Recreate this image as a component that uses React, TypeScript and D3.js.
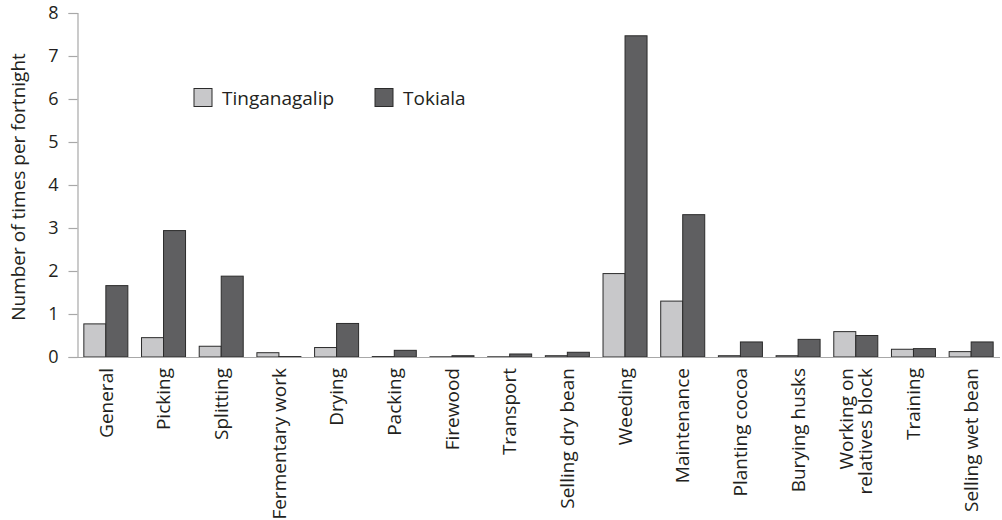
import React, { useEffect, useRef } from 'react';
import * as d3 from 'd3';

const categories = [
  'General', 'Picking', 'Splitting', 'Fermentary work', 'Drying', 'Packing',
  'Firewood', 'Transport', 'Selling dry bean', 'Weeding', 'Maintenance',
  'Planting cocoa', 'Burying husks', 'Working on\nrelatives block', 'Training',
  'Selling wet bean',
];
const tinganagalip = [0.77, 0.45, 0.25, 0.1, 0.22, 0.01, 0.005, 0.005, 0.03, 1.94, 1.3, 0.03, 0.03, 0.59, 0.18, 0.125];
const tokiala = [1.66, 2.94, 1.88, 0.01, 0.78, 0.155, 0.03, 0.07, 0.11, 7.47, 3.31, 0.35, 0.41, 0.5, 0.195, 0.35];
const seriesNames = ['Tinganagalip', 'Tokiala'];
const yTicks = [0, 1, 2, 3, 4, 5, 6, 7, 8];

const colors = ['#c8c8ca', '#5f5f61'];
const textColor = '#231f20';
const font = '"Open Sans", "DejaVu Sans", sans-serif';

function BarChart() {
  const svgRef = useRef<SVGSVGElement>(null);

  useEffect(() => {
    const svg = d3.select(svgRef.current);
    svg.selectAll('*').remove();

    const left = 77, right = 1000, top = 13, bottom = 357;

    const x = d3.scaleBand<string>()
      .domain(categories)
      .range([left, right])
      .paddingInner(0.237)
      .paddingOuter(0.1185);
    const x1 = d3.scaleBand<string>()
      .domain(seriesNames)
      .range([0, x.bandwidth()]);
    const y = d3.scaleLinear().domain([0, 8]).range([bottom, top]);

    // bars
    const groups = svg.append('g')
      .selectAll('g')
      .data(categories)
      .enter()
      .append('g')
      .attr('transform', d => `translate(${x(d)},0)`);

    groups.selectAll('rect')
      .data((d, i) => [tinganagalip[i], tokiala[i]].map((v, j) => ({ v, s: seriesNames[j], j })))
      .enter()
      .append('rect')
      .attr('x', d => x1(d.s)!)
      .attr('y', d => y(d.v))
      .attr('width', x1.bandwidth())
      .attr('height', d => y(0) - y(d.v))
      .attr('fill', d => colors[d.j])
      .attr('stroke', '#2b2b2b')
      .attr('stroke-width', 1);

    // x baseline
    svg.append('line')
      .attr('x1', left).attr('x2', right)
      .attr('y1', y(0) + 0.5).attr('y2', y(0) + 0.5)
      .attr('stroke', '#a8a8a8').attr('stroke-width', 1.2);

    // y axis
    const yAxis = svg.append('g')
      .attr('transform', `translate(${left + 0.5},0)`)
      .call(d3.axisLeft(y).tickValues(yTicks).tickSize(9).tickPadding(10).tickFormat(d3.format('d')));
    yAxis.select('.domain').attr('stroke', '#a8a8a8').attr('stroke-width', 1.2);
    yAxis.selectAll('.tick line').attr('stroke', '#a8a8a8').attr('stroke-width', 1.2);
    yAxis.selectAll('.tick text')
      .attr('fill', textColor)
      .style('font-family', font)
      .style('font-size', '18px');

    // y title
    svg.append('text')
      .attr('transform', `translate(25,${(top + bottom) / 2 + 2}) rotate(-90)`)
      .attr('text-anchor', 'middle')
      .attr('fill', textColor)
      .style('font-family', font)
      .style('font-size', '19px')
      .text('Number of times per fortnight');

    // x labels
    categories.forEach(c => {
      const lines = c.split('\n');
      const cx = x(c)! + x.bandwidth() / 2;
      const t = svg.append('text')
        .attr('transform', `translate(${cx},${bottom + 11}) rotate(-90)`)
        .attr('text-anchor', 'end')
        .attr('fill', textColor)
        .style('font-family', font)
        .style('font-size', '19px');
      lines.forEach((ln, k) => {
        t.append('tspan')
          .attr('x', 0)
          .attr('dy', k === 0 ? `${0.35 - (lines.length - 1) * 0.5}em` : '1em')
          .text(ln);
      });
    });

    // legend
    const legendX = [194, 375];
    seriesNames.forEach((s, i) => {
      svg.append('rect')
        .attr('x', legendX[i]).attr('y', 88.5)
        .attr('width', 18).attr('height', 18)
        .attr('fill', colors[i])
        .attr('stroke', '#2b2b2b').attr('stroke-width', 1);
      svg.append('text')
        .attr('x', legendX[i] + 28).attr('y', 98)
        .attr('dy', '0.35em')
        .attr('fill', textColor)
        .style('font-family', font)
        .style('font-size', '19px')
        .text(s);
    });
  }, []);

  return (
    <svg ref={svgRef} width={1002} height={520}
      style={{ position: 'absolute', left: 0, top: 0, background: '#fff' }} />
  );
}

export default function App() {
  return <BarChart />;
}
